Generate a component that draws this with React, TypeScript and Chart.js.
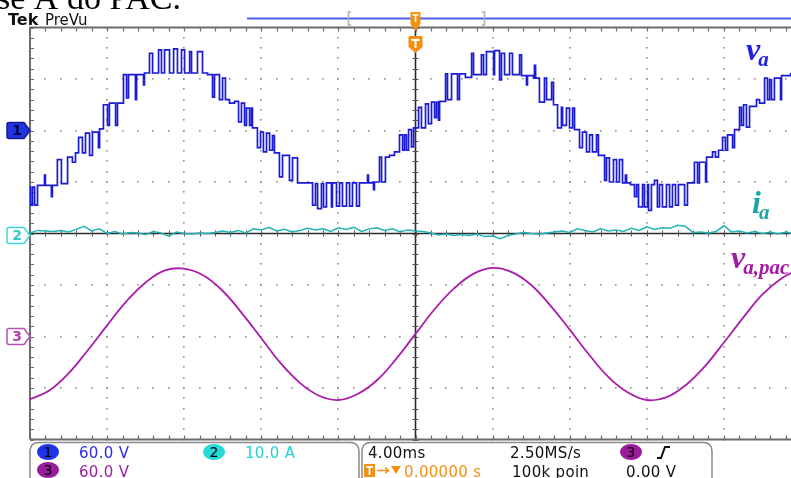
import React, { useEffect, useRef } from "react";
import { Chart, registerables } from "chart.js";

Chart.register(...registerables);

// ---------------- data ----------------
const timeMinMs = -20;
const timeMaxMs = 20;
const timePerDivMs = 4;
const ch1VoltsPerDiv = 60;
const ch2AmpsPerDiv = 10;
const ch3VoltsPerDiv = 60;
const ch1OffsetDiv = 2;
const ch2OffsetDiv = 0;
const ch3OffsetDiv = -2;

// v_a : multilevel PWM voltage, [time ms, volts] breakpoints (stepped)
const vaSteps: [number, number][] = [
  [-20.0, -66], [-19.97, -87], [-19.87, -66], [-19.76, -87], [-19.61, -64], [-19.25, -52], [-19.2, -64],
  [-18.89, -77], [-18.84, -64], [-18.58, -34], [-18.37, -62], [-18.05, -31], [-17.8, -37], [-17.64, -26],
  [-17.48, -8], [-17.28, -26], [-17.12, -3], [-16.91, -29], [-16.76, -2], [-16.45, -20], [-16.39, 2],
  [-16.19, 30], [-15.98, 6], [-15.88, 32], [-15.56, 6], [-15.46, 32], [-15.15, 65], [-14.99, 38],
  [-14.89, 65], [-14.53, 36], [-14.47, 65], [-14.11, 53], [-14.06, 67], [-13.8, 90], [-13.64, 67],
  [-13.33, 94], [-13.18, 67], [-13.02, 94], [-12.76, 67], [-12.55, 95], [-12.35, 67], [-12.14, 94],
  [-11.98, 67], [-11.72, 92], [-11.62, 67], [-11.31, 92], [-11.05, 67], [-10.79, 65], [-10.53, 39],
  [-10.43, 65], [-10.17, 36], [-10.01, 61], [-9.86, 36], [-9.65, 32], [-9.39, 34], [-9.18, 10],
  [-9.03, 32], [-8.87, 6], [-8.77, 26], [-8.61, 6], [-8.51, 26], [-8.46, 3], [-8.2, -20], [-8.04, -2],
  [-7.89, -25], [-7.73, -3], [-7.57, -23], [-7.42, -6], [-7.32, -26], [-7.06, -54], [-6.9, -29],
  [-6.54, -58], [-6.38, -32], [-6.12, -61], [-5.34, -87], [-5.19, -62], [-5.08, -91], [-4.88, -62],
  [-4.77, -89], [-4.62, -61], [-4.36, -89], [-4.31, -61], [-4.1, -88], [-3.94, -61], [-3.79, -88],
  [-3.58, -61], [-3.42, -88], [-3.27, -61], [-3.06, -88], [-2.91, -61], [-2.49, -52], [-2.44, -61],
  [-2.23, -60], [-2.18, -69], [-2.13, -60], [-1.87, -31], [-1.76, -60], [-1.56, -31], [-1.35, -29],
  [-1.09, -25], [-0.83, -5], [-0.67, -23], [-0.57, -5], [-0.47, -23], [-0.36, 1], [-0.21, -19],
  [-0.1, 3], [0.16, 27], [0.31, 3], [0.52, 31], [0.67, 8], [0.83, 33], [0.99, 15], [1.09, 33],
  [1.19, 12], [1.25, 34], [1.56, 66], [1.66, 36], [1.87, 66], [2.18, 36], [2.28, 66], [2.59, 62],
  [2.91, 90], [3.01, 65], [3.42, 88], [3.53, 65], [3.68, 92], [4.05, 65], [4.1, 93], [4.36, 59],
  [4.46, 90], [4.62, 65], [4.88, 90], [5.03, 65], [5.4, 88], [5.5, 64], [5.76, 53], [5.81, 64],
  [6.12, 61], [6.17, 76], [6.23, 61], [6.43, 33], [6.69, 61], [6.8, 36], [7.06, 56], [7.16, 30],
  [7.37, 3], [7.57, 27], [7.63, 6], [7.83, 26], [7.99, 3], [8.15, 26], [8.25, 1], [8.51, -20],
  [8.66, -2], [8.87, -25], [9.03, -5], [9.18, -25], [9.39, -5], [9.49, -29], [9.81, -58], [9.91, -32],
  [10.06, -60], [10.27, -34], [10.43, -60], [10.58, -34], [10.74, -61], [10.89, -52], [10.95, -61],
  [11.15, -63], [11.36, -77], [11.47, -63], [11.57, -89], [11.78, -63], [11.88, -89], [12.04, -63],
  [12.09, -93], [12.24, -63], [12.4, -58], [12.55, -89], [12.66, -63], [12.81, -89], [13.02, -63],
  [13.18, -89], [13.33, -63], [13.49, -87], [13.64, -63], [13.96, -87], [14.11, -61], [14.47, -37],
  [14.63, -61], [14.73, -37], [15.05, -60], [15.1, -31], [15.41, -25], [15.56, -31], [15.72, -23],
  [15.93, -8], [16.08, -23], [16.19, -5], [16.45, -20], [16.55, 1], [16.81, 27], [16.91, 6],
  [17.02, 30], [17.17, 4], [17.33, 28], [17.69, 36], [17.85, 32], [18.11, 61], [18.26, 36],
  [18.37, 59], [18.47, 36], [18.62, 61], [18.94, 36], [18.99, 64], [19.46, 66], [20.0, 68],
];

// i_a : current (A), sampled every 0.4 ms from -20 ms
const iaStartMs = -20;
const iaStepMs = 0.4;
const iaAmps = [
  0.1, 0.6, 0.5, 0.4, 0.6, 0.3, 0.8, 1.4, 0.5, 0.9, 0.0, 0.4, -0.1, 0.2, 0.1, -0.2, 0.4, 0.1, -0.5, 0.3,
  0.0, -0.1, 0.1, 0.0, 0.2, 0.5, 0.2, 0.6, 0.1, 0.9, 0.7, 1.2, 0.5, 0.8, 0.3, 0.6, 1.0, 0.7, 0.9, 0.4,
  1.1, 0.8, 1.2, 0.4, 0.9, 1.1, 0.6, 0.9, 0.3, 0.7, 0.5, 0.4, 0.1, -0.3, -0.1, -0.4, -0.2, -0.4, -0.1, -0.6,
  -0.5, -1.0, -0.4, -0.1, 0.2, 0.0, -0.1, 0.1, 0.3, 0.5, 0.2, 0.9, 0.6, 0.3, 0.9, 0.5, 0.7, 0.4, 1.0, 0.6,
  1.3, 0.8, 1.1, 1.0, 1.6, 1.4, 0.2, 0.3, 0.1, 0.4, 1.5, 0.3, 0.5, 0.1, 0.4, 0.0, 0.3, -0.1, 0.3, 0.0,
  0.2,
];

// v_a,pac : PCC voltage (V), one reading per ms
const vpacTimesMs = [
  -20, -19, -18, -17, -16, -15, -14, -13, -12, -11, -10, -9, -8, -7, -6, -5, -4, -3, -2, -1, 0,
  1, 2, 3, 4, 5, 6, 7, 8, 9, 10, 11, 12, 13, 14, 15, 16, 17, 18, 19, 20,
];
const vpacVolts = [
  -73, -63, -43, -16, 13, 41, 63, 77, 79, 71, 53, 27, -2, -31, -54, -69, -74, -67, -51, -26, 3,
  32, 56, 73, 80, 75, 60, 36, 8, -21, -47, -65, -74, -71, -57, -35, -7, 22, 49, 68, 79,
];

const ch1Label = "60.0 V";
const ch2Label = "10.0 A";
const ch3Label = "60.0 V";
const timebaseLabel = "4.00ms";
const sampleRateLabel = "2.50MS/s";
const recordLabel = "100k poin";
const triggerDelayLabel = "0.00000 s";
const triggerLevelLabel = "0.00 V";

// ---------------- colours ----------------
const C1 = "#1a1ad8";
const C2 = "#22b4b4";
const C3 = "#ab1cab";
const ORANGE = "#f29111";

function roundRectPath(ctx: CanvasRenderingContext2D, x: number, y: number, w: number, h: number, r: number) {
  ctx.beginPath();
  ctx.moveTo(x + r, y);
  ctx.lineTo(x + w - r, y);
  ctx.quadraticCurveTo(x + w, y, x + w, y + r);
  ctx.lineTo(x + w, y + h - r);
  ctx.quadraticCurveTo(x + w, y + h, x + w - r, y + h);
  ctx.lineTo(x + r, y + h);
  ctx.quadraticCurveTo(x, y + h, x, y + h - r);
  ctx.lineTo(x, y + r);
  ctx.quadraticCurveTo(x, y, x + r, y);
  ctx.closePath();
}

const backgroundPlugin = {
  id: "bg",
  beforeDraw(chart: any) {
    const ctx = chart.ctx as CanvasRenderingContext2D;
    ctx.save();
    ctx.fillStyle = "#ffffff";
    ctx.fillRect(0, 0, chart.width, chart.height);
    ctx.restore();
  },
};

const graticulePlugin = {
  id: "graticule",
  beforeDatasetsDraw(chart: any) {
    const ctx = chart.ctx as CanvasRenderingContext2D;
    const a = chart.chartArea;
    const xs = chart.scales.x;
    const ys = chart.scales.y2;
    const yMin = (-4 - ch2OffsetDiv) * ch2AmpsPerDiv;
    const yMax = (4 - ch2OffsetDiv) * ch2AmpsPerDiv;
    ctx.save();
    ctx.fillStyle = "#8e8e8e";
    for (let t = timeMinMs + timePerDivMs; t < timeMaxMs; t += timePerDivMs) {
      if (Math.abs(t) < 1e-6) continue;
      const x = xs.getPixelForValue(t);
      for (let v = yMin; v <= yMax + 1e-6; v += ch2AmpsPerDiv / 5) {
        const y = ys.getPixelForValue(v);
        ctx.fillRect(Math.round(x) - 1, Math.round(y) - 1, 1.6, 1.6);
      }
    }
    for (let v = yMin + ch2AmpsPerDiv; v < yMax; v += ch2AmpsPerDiv) {
      if (Math.abs(v) < 1e-6) continue;
      const y = ys.getPixelForValue(v);
      for (let t = timeMinMs; t <= timeMaxMs + 1e-6; t += timePerDivMs / 5) {
        const x = xs.getPixelForValue(t);
        ctx.fillRect(Math.round(x) - 1, Math.round(y) - 1, 1.6, 1.6);
      }
    }
    const x0 = xs.getPixelForValue(0);
    const y0 = ys.getPixelForValue(0);
    ctx.strokeStyle = "#2b2b2b";
    ctx.lineWidth = 1.6;
    ctx.beginPath();
    ctx.moveTo(x0, a.top);
    ctx.lineTo(x0, a.bottom);
    ctx.moveTo(a.left, y0);
    ctx.lineTo(a.right, y0);
    ctx.stroke();
    ctx.lineWidth = 1;
    ctx.strokeStyle = "#555";
    ctx.beginPath();
    for (let v = yMin; v <= yMax + 1e-6; v += ch2AmpsPerDiv / 5) {
      const y = Math.round(ys.getPixelForValue(v)) + 0.5;
      ctx.moveTo(x0 - 3, y);
      ctx.lineTo(x0 + 3, y);
    }
    for (let t = timeMinMs; t <= timeMaxMs + 1e-6; t += timePerDivMs / 5) {
      const x = Math.round(xs.getPixelForValue(t)) + 0.5;
      ctx.moveTo(x, y0 - 3);
      ctx.lineTo(x, y0 + 3);
    }
    ctx.stroke();
    ctx.strokeStyle = "#6c6c6c";
    ctx.lineWidth = 2;
    ctx.beginPath();
    ctx.moveTo(a.left, a.bottom);
    ctx.lineTo(a.left, a.top);
    ctx.lineTo(a.right, a.top);
    ctx.moveTo(a.left, a.bottom);
    ctx.lineTo(a.right, a.bottom);
    ctx.stroke();
    ctx.lineWidth = 1.2;
    ctx.beginPath();
    for (let t = timeMinMs; t <= timeMaxMs + 1e-6; t += timePerDivMs / 5) {
      const x = Math.round(xs.getPixelForValue(t)) + 0.5;
      ctx.moveTo(x, a.top);
      ctx.lineTo(x, a.top + 4);
      ctx.moveTo(x, a.bottom);
      ctx.lineTo(x, a.bottom - 4);
    }
    for (let v = yMin; v <= yMax + 1e-6; v += ch2AmpsPerDiv / 5) {
      const y = Math.round(ys.getPixelForValue(v)) + 0.5;
      ctx.moveTo(a.left, y);
      ctx.lineTo(a.left + 4, y);
    }
    ctx.stroke();
    ctx.restore();
  },
};

function chMarker(ctx: CanvasRenderingContext2D, y: number, fill: string, stroke: string, label: string, textColor: string) {
  ctx.save();
  ctx.beginPath();
  ctx.moveTo(9, y - 8);
  ctx.lineTo(24, y - 8);
  ctx.lineTo(30, y);
  ctx.lineTo(24, y + 8);
  ctx.lineTo(9, y + 8);
  ctx.quadraticCurveTo(7, y + 8, 7, y + 6);
  ctx.lineTo(7, y - 6);
  ctx.quadraticCurveTo(7, y - 8, 9, y - 8);
  ctx.closePath();
  ctx.fillStyle = fill;
  ctx.fill();
  ctx.strokeStyle = stroke;
  ctx.lineWidth = 1.5;
  ctx.stroke();
  ctx.fillStyle = textColor;
  ctx.font = "bold 14px 'DejaVu Sans'";
  ctx.textAlign = "center";
  ctx.textBaseline = "middle";
  ctx.fillText(label, 17, y + 1);
  ctx.restore();
}

function ellipseBadge(ctx: CanvasRenderingContext2D, cx: number, cy: number, fill: string, label: string, textColor: string) {
  ctx.save();
  ctx.beginPath();
  ctx.ellipse(cx, cy, 11, 8, 0, 0, Math.PI * 2);
  ctx.fillStyle = fill;
  ctx.fill();
  ctx.fillStyle = textColor;
  ctx.font = "14px 'DejaVu Sans'";
  ctx.textAlign = "center";
  ctx.textBaseline = "middle";
  ctx.fillText(label, cx, cy + 1);
  ctx.restore();
}

function subLabel(ctx: CanvasRenderingContext2D, x: number, y: number, main: string, sub: string, color: string) {
  ctx.save();
  ctx.fillStyle = color;
  ctx.textBaseline = "alphabetic";
  ctx.font = "bold italic 32px 'Liberation Serif'";
  ctx.fillText(main, x, y);
  const w = ctx.measureText(main).width;
  ctx.font = "bold italic 21px 'Liberation Serif'";
  ctx.fillText(sub, x + w - 2, y + 6);
  ctx.restore();
}

const overlayPlugin = {
  id: "overlay",
  afterDraw(chart: any) {
    const ctx = chart.ctx as CanvasRenderingContext2D;
    const xs = chart.scales.x;
    const x0 = xs.getPixelForValue(0);
    ctx.save();

    ctx.fillStyle = "#000";
    ctx.font = "34px 'Liberation Serif'";
    ctx.textBaseline = "alphabetic";
    ctx.fillText("se A do PAC.", -3, 9);

    ctx.fillStyle = "#111";
    ctx.font = "bold 16px 'DejaVu Sans'";
    ctx.fillText("Tek", 8, 25);
    ctx.font = "15px 'DejaVu Sans'";
    ctx.fillText("PreVu", 45, 25);

    ctx.strokeStyle = "#4c5ff0";
    ctx.lineWidth = 2;
    ctx.beginPath();
    ctx.moveTo(247, 18.5);
    ctx.lineTo(chart.width, 18.5);
    ctx.stroke();
    ctx.strokeStyle = "#b0b0b0";
    ctx.lineWidth = 1.5;
    ctx.beginPath();
    ctx.moveTo(351, 12);
    ctx.lineTo(348.5, 12);
    ctx.lineTo(348.5, 25);
    ctx.lineTo(351, 25);
    ctx.moveTo(482, 12);
    ctx.lineTo(484.5, 12);
    ctx.lineTo(484.5, 25);
    ctx.lineTo(482, 25);
    ctx.stroke();

    ctx.fillStyle = ORANGE;
    ctx.beginPath();
    ctx.moveTo(x0 - 5, 12);
    ctx.lineTo(x0 + 5, 12);
    ctx.lineTo(x0 + 5, 24);
    ctx.lineTo(x0, 31);
    ctx.lineTo(x0 - 5, 24);
    ctx.closePath();
    ctx.fill();
    ctx.fillStyle = "#ffffff";
    ctx.fillRect(x0 - 3, 14, 6, 1.6);
    ctx.fillRect(x0 - 0.8, 14, 1.6, 8);
    ctx.fillStyle = ORANGE;
    ctx.beginPath();
    ctx.moveTo(x0 - 6, 36);
    ctx.lineTo(x0 + 6, 36);
    ctx.quadraticCurveTo(x0 + 7, 36, x0 + 7, 38);
    ctx.lineTo(x0 + 7, 47);
    ctx.lineTo(x0, 53);
    ctx.lineTo(x0 - 7, 47);
    ctx.lineTo(x0 - 7, 38);
    ctx.quadraticCurveTo(x0 - 7, 36, x0 - 6, 36);
    ctx.closePath();
    ctx.fill();
    ctx.fillStyle = "#ffffff";
    ctx.fillRect(x0 - 4, 39, 8, 2);
    ctx.fillRect(x0 - 1, 39, 2, 9);

    const g1 = chart.scales.y1.getPixelForValue(0);
    const g2 = chart.scales.y2.getPixelForValue(0);
    const g3 = chart.scales.y3.getPixelForValue(0);
    chMarker(ctx, g1, "#2233e0", "#1a1a90", "1", "#000050");
    chMarker(ctx, g2 + 2, "#ffffff", "#3fd6d6", "2", "#2cc8c8");
    chMarker(ctx, g3, "#ffffff", "#b84fb8", "3", "#b040b0");

    subLabel(ctx, 746, 60, "v", "a", "#2020e0");
    subLabel(ctx, 752, 213, "i", "a", "#19a6a6");
    subLabel(ctx, 731, 268, "v", "a,pac", "#a41aa4");

    ctx.strokeStyle = "#8a8a8a";
    ctx.lineWidth = 1.5;
    roundRectPath(ctx, 30, 442.5, 329, 50, 9);
    ctx.stroke();
    roundRectPath(ctx, 362, 442.5, 350, 50, 9);
    ctx.stroke();

    ellipseBadge(ctx, 48, 452, "#1f34ea", "1", "#000");
    ellipseBadge(ctx, 214, 452, "#27d9d9", "2", "#000");
    ellipseBadge(ctx, 48, 470, "#9c1a9c", "3", "#000");
    ellipseBadge(ctx, 631, 452, "#9c1a9c", "3", "#000");

    ctx.font = "15px 'DejaVu Sans'";
    (ctx as any).letterSpacing = "0.3px";
    ctx.textAlign = "left";
    ctx.textBaseline = "alphabetic";
    ctx.fillStyle = "#2a2af2";
    ctx.fillText(ch1Label, 79, 458);
    ctx.fillStyle = "#22d2d2";
    ctx.fillText(ch2Label, 245, 458);
    ctx.fillStyle = "#a01ea0";
    ctx.fillText(ch3Label, 79, 477);
    ctx.fillStyle = "#111";
    ctx.fillText(timebaseLabel, 368, 458);
    ctx.fillText(sampleRateLabel, 510, 458);
    ctx.fillText(recordLabel, 512, 477);
    ctx.fillText(triggerLevelLabel, 626, 477);
    ctx.fillStyle = ORANGE;
    ctx.fillText(triggerDelayLabel, 404, 477);
    (ctx as any).letterSpacing = "0px";

    ctx.strokeStyle = "#111";
    ctx.lineWidth = 2;
    ctx.beginPath();
    ctx.moveTo(657, 458);
    ctx.lineTo(661, 458);
    ctx.lineTo(665, 447);
    ctx.lineTo(670, 447);
    ctx.stroke();

    ctx.fillStyle = ORANGE;
    ctx.fillRect(364, 464, 11, 13);
    ctx.fillStyle = "#fff";
    ctx.fillRect(366, 466, 7, 1.8);
    ctx.fillRect(368.6, 466, 1.8, 9);
    ctx.strokeStyle = ORANGE;
    ctx.lineWidth = 1.5;
    ctx.beginPath();
    ctx.moveTo(377, 470.5);
    ctx.lineTo(388, 470.5);
    ctx.moveTo(385, 467.5);
    ctx.lineTo(388.5, 470.5);
    ctx.lineTo(385, 473.5);
    ctx.stroke();
    ctx.fillStyle = ORANGE;
    ctx.beginPath();
    ctx.moveTo(391, 466);
    ctx.lineTo(401, 466);
    ctx.lineTo(396, 474);
    ctx.closePath();
    ctx.fill();

    ctx.restore();
  },
};

export default function App() {
  const canvasRef = useRef<HTMLCanvasElement | null>(null);

  useEffect(() => {
    document.body.style.margin = "0";
    const canvas = canvasRef.current;
    if (!canvas) return;

    const vaData = vaSteps.map(([t, v]) => ({ x: t, y: v }));
    const iaData = iaAmps.map((a, i) => ({ x: iaStartMs + i * iaStepMs, y: a }));
    const vpacData = vpacTimesMs.map((t, i) => ({ x: t, y: vpacVolts[i] }));

    const chart = new Chart(canvas, {
      type: "line",
      data: {
        datasets: [
          {
            label: "va",
            data: vaData,
            yAxisID: "y1",
            stepped: "before",
            borderColor: C1,
            borderWidth: 1.7,
            pointRadius: 0,
            fill: false,
          },
          {
            label: "ia",
            data: iaData,
            yAxisID: "y2",
            borderColor: C2,
            borderWidth: 1.5,
            pointRadius: 0,
            tension: 0,
            fill: false,
          },
          {
            label: "va,pac",
            data: vpacData,
            yAxisID: "y3",
            borderColor: C3,
            borderWidth: 1.8,
            pointRadius: 0,
            tension: 0.4,
            fill: false,
          },
        ],
      },
      options: {
        responsive: false,
        animation: false,
        devicePixelRatio: 1,
        events: [],
        layout: { padding: { left: 30, right: 11, top: 27.5, bottom: 38.5 } },
        plugins: { legend: { display: false }, tooltip: { enabled: false } },
        scales: {
          x: { type: "linear", min: timeMinMs, max: timeMaxMs, display: false },
          y1: {
            type: "linear",
            min: (-4 - ch1OffsetDiv) * ch1VoltsPerDiv,
            max: (4 - ch1OffsetDiv) * ch1VoltsPerDiv,
            display: false,
          },
          y2: {
            type: "linear",
            min: (-4 - ch2OffsetDiv) * ch2AmpsPerDiv,
            max: (4 - ch2OffsetDiv) * ch2AmpsPerDiv,
            display: false,
          },
          y3: {
            type: "linear",
            min: (-4 - ch3OffsetDiv) * ch3VoltsPerDiv,
            max: (4 - ch3OffsetDiv) * ch3VoltsPerDiv,
            display: false,
          },
        },
      },
      plugins: [backgroundPlugin, graticulePlugin, overlayPlugin],
    } as any);

    return () => chart.destroy();
  }, []);

  return (
    <div style={{ position: "fixed", left: 0, top: 0, width: 791, height: 478, overflow: "hidden", background: "#fff" }}>
      <canvas ref={canvasRef} width={812} height={478} style={{ display: "block", width: 812, height: 478 }} />
    </div>
  );
}
